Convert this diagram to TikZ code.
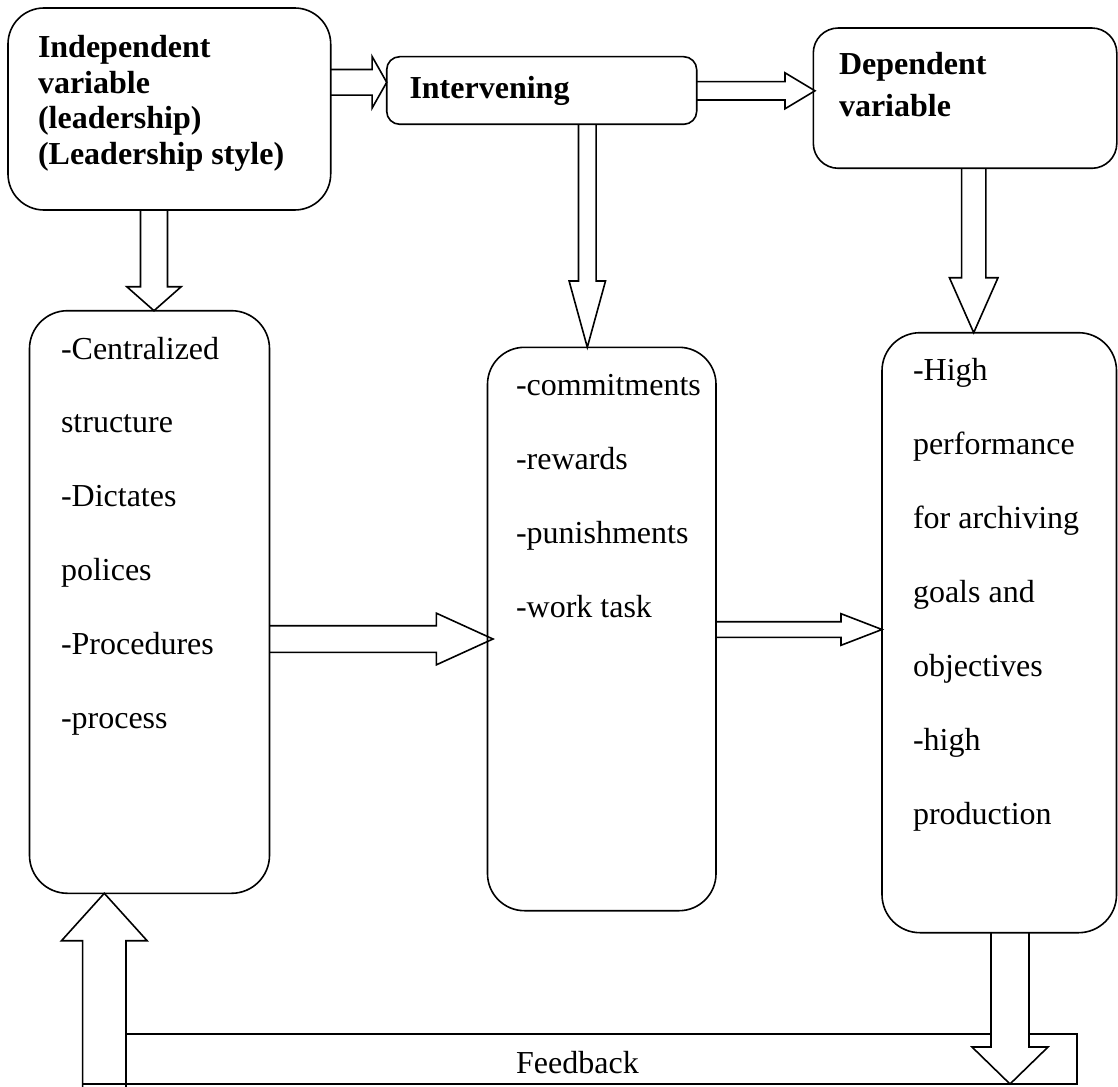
\documentclass[tikz,border=0pt]{standalone}
\usepackage{fontspec}
\setmainfont{Liberation Serif}
\usetikzlibrary{calc}
\pgfdeclarelayer{bg}
\pgfsetlayers{bg,main}
% block arrow: start, tip, shaft half width, head half width, head length
\newcommand\blockarrow[5]{%
  \coordinate (bas) at (#1);
  \coordinate (bat) at (#2);
  \coordinate (bab) at ($(bat)!#5!(bas)$);
  \draw[blk] ($(bas)!#3!90:(bat)$) -- ($(bab)!#3!-90:(bas)$) -- ($(bab)!#4!-90:(bas)$) -- (bat)
     -- ($(bab)!#4!90:(bas)$) -- ($(bab)!#3!90:(bas)$) -- ($(bas)!#3!-90:(bat)$);
}
\tikzset{
  box/.style={draw, line width=1.6pt, rectangle, inner sep=0pt, outer sep=0pt, anchor=north west},
  blk/.style={draw, fill=white, line width=1.6pt, line join=miter},
  txt/.style={inner sep=0pt, outer sep=0pt, anchor=base west, font=\fontsize{32}{38}\selectfont},
  hd/.style={txt, font=\fontsize{32}{38}\selectfont\bfseries},
}
\begin{document}
\begin{tikzpicture}[x=1pt,y=-1pt]
\useasboundingbox (0,0) rectangle (1118,1086);
% boxes
\node[box, rounded corners=36pt, minimum width=322.7pt, minimum height=202pt] (A) at (8,8) {};
\node[box, rounded corners=13pt, minimum width=310pt, minimum height=67.6pt] (B) at (386.7,56.7) {};
\node[box, rounded corners=25pt, minimum width=303.5pt, minimum height=140.3pt] (C) at (813.3,28) {};
\node[box, rounded corners=38pt, minimum width=240pt, minimum height=582.6pt] (D) at (29.5,310.7) {};
\node[box, rounded corners=37pt, minimum width=228.5pt, minimum height=563.4pt] (E) at (487.5,347.3) {};
\node[box, rounded corners=38pt, minimum width=234.5pt, minimum height=600pt] (F) at (882,332.7) {};
% feedback frame and arrows (behind the boxes)
\begin{pgfonlayer}{bg}
\node[box, minimum width=994.3pt, minimum height=50pt] (FB) at (82.7,1034) {};
\blockarrow{A.east |- 0,82.3}{B.west |- 0,82.3}{12.8pt}{25.8pt}{14.6pt}
\blockarrow{B.east |- 0,90.8}{815,90.8}{9.2pt}{18pt}{30pt}
\blockarrow{A.south -| 154,0}{D.north -| 154,0}{13.5pt}{27.2pt}{24pt}
\blockarrow{B.south -| 587.3,0}{E.north -| 587.3,0}{8.85pt}{18.2pt}{66.3pt}
\blockarrow{C.south -| 973.7,0}{F.north -| 973.7,0}{12.15pt}{24.3pt}{55pt}
\blockarrow{D.east |- 0,639}{493,639}{13.3pt}{25.8pt}{56.6pt}
\blockarrow{E.east |- 0,629.5}{F.west |- 0,629.5}{7.8pt}{15.8pt}{41pt}
\blockarrow{104.3,1087}{D.south -| 104.3,0}{21.7pt}{42.8pt}{47.4pt}
\blockarrow{F.south -| 1010,0}{1010,1084}{19pt}{38pt}{37pt}
\draw[line width=1.6pt] (FB.south west) -- (FB.south east);
\end{pgfonlayer}
% headings
\node[hd] (a1) at (38,58) {Independent};
\node[hd] (a2) at (38,93.5) {variable};
\node[hd] (a3) at (38,129) {(leadership)};
\node[hd] (a4) at (38,165) {(Leadership style)};
\node[hd] (b1) at (409.5,99) {Intervening};
\node[hd] (c1) at (839,75) {Dependent};
\node[hd] (c2) at (839,117) {variable};
% list texts
\foreach \t [count=\i] in {-Centralized, structure, -Dictates, polices, -Procedures, -process}
  \node[txt] (d\i) at (61,{359+73.8*(\i-1)}) {\t};
\foreach \t [count=\i] in {-commitments, -rewards, -punishments, -work task}
  \node[txt] (e\i) at (516,{395+74*(\i-1)}) {\t};
\foreach \t [count=\i] in {-High, performance, for archiving, goals and, objectives, -high, production}
  \node[txt] (f\i) at (913,{380+74*(\i-1)}) {\t};
\node[txt, anchor=base] (fbl) at (577.5,1073) {Feedback};
\end{tikzpicture}
\end{document}
